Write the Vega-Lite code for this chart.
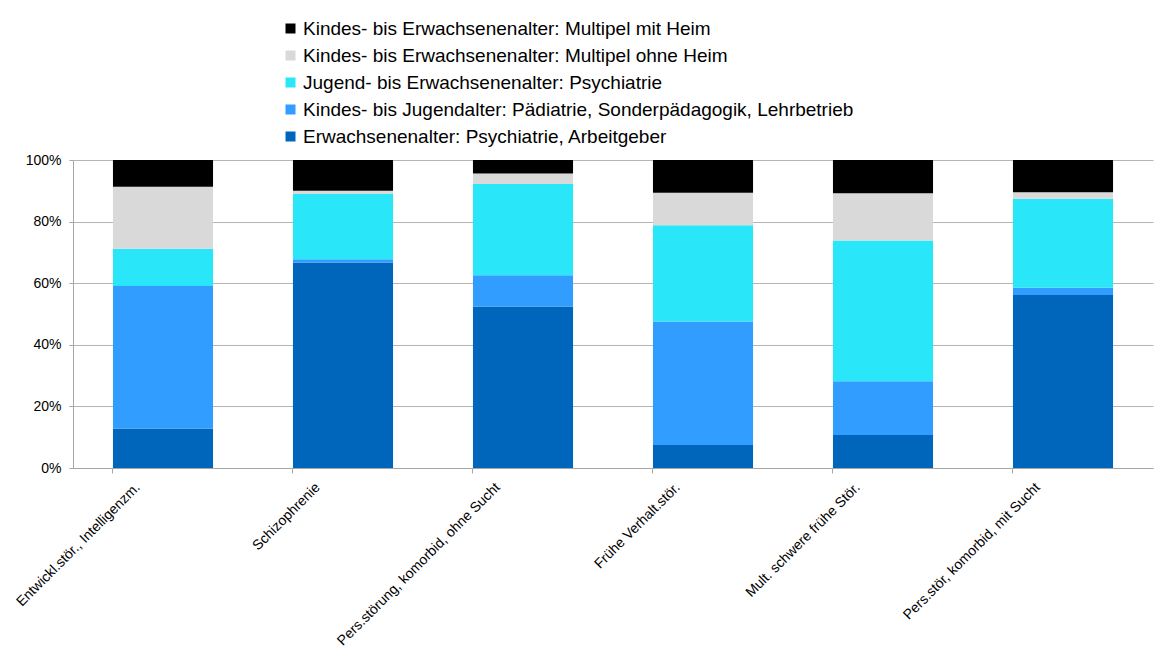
{
  "$schema": "https://vega.github.io/schema/vega-lite/v6.json",
  "width": 1080,
  "height": 308,
  "autosize": {"type": "none"},
  "padding": {"left": 73, "top": 160, "right": 14, "bottom": 180},
  "background": "white",
  "config": {
    "font": "Liberation Sans",
    "view": {"stroke": null}
  },
  "data": {
    "values": [
      {"kat": "Entwickl.stör., Intelligenzm.", "serie": "Erwachsenenalter: Psychiatrie, Arbeitgeber", "wert": 12.8},
      {"kat": "Entwickl.stör., Intelligenzm.", "serie": "Kindes- bis Jugendalter: Pädiatrie, Sonderpädagogik, Lehrbetrieb", "wert": 46.3},
      {"kat": "Entwickl.stör., Intelligenzm.", "serie": "Jugend- bis Erwachsenenalter: Psychiatrie", "wert": 12.1},
      {"kat": "Entwickl.stör., Intelligenzm.", "serie": "Kindes- bis Erwachsenenalter: Multipel ohne Heim", "wert": 20.1},
      {"kat": "Entwickl.stör., Intelligenzm.", "serie": "Kindes- bis Erwachsenenalter: Multipel mit Heim", "wert": 8.7},
      {"kat": "Schizophrenie", "serie": "Erwachsenenalter: Psychiatrie, Arbeitgeber", "wert": 66.7},
      {"kat": "Schizophrenie", "serie": "Kindes- bis Jugendalter: Pädiatrie, Sonderpädagogik, Lehrbetrieb", "wert": 1.1},
      {"kat": "Schizophrenie", "serie": "Jugend- bis Erwachsenenalter: Psychiatrie", "wert": 21.2},
      {"kat": "Schizophrenie", "serie": "Kindes- bis Erwachsenenalter: Multipel ohne Heim", "wert": 1.0},
      {"kat": "Schizophrenie", "serie": "Kindes- bis Erwachsenenalter: Multipel mit Heim", "wert": 10.0},
      {"kat": "Pers.störung, komorbid, ohne Sucht", "serie": "Erwachsenenalter: Psychiatrie, Arbeitgeber", "wert": 52.4},
      {"kat": "Pers.störung, komorbid, ohne Sucht", "serie": "Kindes- bis Jugendalter: Pädiatrie, Sonderpädagogik, Lehrbetrieb", "wert": 10.2},
      {"kat": "Pers.störung, komorbid, ohne Sucht", "serie": "Jugend- bis Erwachsenenalter: Psychiatrie", "wert": 29.6},
      {"kat": "Pers.störung, komorbid, ohne Sucht", "serie": "Kindes- bis Erwachsenenalter: Multipel ohne Heim", "wert": 3.4},
      {"kat": "Pers.störung, komorbid, ohne Sucht", "serie": "Kindes- bis Erwachsenenalter: Multipel mit Heim", "wert": 4.4},
      {"kat": "Frühe Verhalt.stör.", "serie": "Erwachsenenalter: Psychiatrie, Arbeitgeber", "wert": 7.5},
      {"kat": "Frühe Verhalt.stör.", "serie": "Kindes- bis Jugendalter: Pädiatrie, Sonderpädagogik, Lehrbetrieb", "wert": 40.1},
      {"kat": "Frühe Verhalt.stör.", "serie": "Jugend- bis Erwachsenenalter: Psychiatrie", "wert": 31.2},
      {"kat": "Frühe Verhalt.stör.", "serie": "Kindes- bis Erwachsenenalter: Multipel ohne Heim", "wert": 10.6},
      {"kat": "Frühe Verhalt.stör.", "serie": "Kindes- bis Erwachsenenalter: Multipel mit Heim", "wert": 10.6},
      {"kat": "Mult. schwere frühe Stör.", "serie": "Erwachsenenalter: Psychiatrie, Arbeitgeber", "wert": 10.7},
      {"kat": "Mult. schwere frühe Stör.", "serie": "Kindes- bis Jugendalter: Pädiatrie, Sonderpädagogik, Lehrbetrieb", "wert": 17.5},
      {"kat": "Mult. schwere frühe Stör.", "serie": "Jugend- bis Erwachsenenalter: Psychiatrie", "wert": 45.7},
      {"kat": "Mult. schwere frühe Stör.", "serie": "Kindes- bis Erwachsenenalter: Multipel ohne Heim", "wert": 15.3},
      {"kat": "Mult. schwere frühe Stör.", "serie": "Kindes- bis Erwachsenenalter: Multipel mit Heim", "wert": 10.8},
      {"kat": "Pers.stör, komorbid, mit Sucht", "serie": "Erwachsenenalter: Psychiatrie, Arbeitgeber", "wert": 56.2},
      {"kat": "Pers.stör, komorbid, mit Sucht", "serie": "Kindes- bis Jugendalter: Pädiatrie, Sonderpädagogik, Lehrbetrieb", "wert": 2.3},
      {"kat": "Pers.stör, komorbid, mit Sucht", "serie": "Jugend- bis Erwachsenenalter: Psychiatrie", "wert": 28.9},
      {"kat": "Pers.stör, komorbid, mit Sucht", "serie": "Kindes- bis Erwachsenenalter: Multipel ohne Heim", "wert": 2.1},
      {"kat": "Pers.stör, komorbid, mit Sucht", "serie": "Kindes- bis Erwachsenenalter: Multipel mit Heim", "wert": 10.5}
    ]
  },
  "transform": [
    {"calculate": "indexof(['Erwachsenenalter: Psychiatrie, Arbeitgeber', 'Kindes- bis Jugendalter: Pädiatrie, Sonderpädagogik, Lehrbetrieb', 'Jugend- bis Erwachsenenalter: Psychiatrie', 'Kindes- bis Erwachsenenalter: Multipel ohne Heim', 'Kindes- bis Erwachsenenalter: Multipel mit Heim'], datum.serie)", "as": "reihenfolge"}
  ],
  "mark": {"type": "bar"},
  "encoding": {
    "x": {
      "field": "kat",
      "type": "nominal",
      "sort": null,
      "scale": {"paddingInner": 0.444, "paddingOuter": 0.222},
      "axis": {
        "title": null,
        "labelAngle": -45,
        "labelAlign": "right",
        "labelBaseline": "top",
        "labelFontSize": 14,
        "labelColor": "black",
        "labelOffset": -30,
        "labelPadding": 7,
        "bandPosition": 0,
        "domainColor": "#A6A6A6",
        "tickColor": "#A6A6A6",
        "tickSize": 5,
        "labelLimit": 400
      }
    },
    "y": {
      "field": "wert",
      "type": "quantitative",
      "stack": "normalize",
      "scale": {"domain": [0, 1], "nice": false},
      "axis": {
        "title": null,
        "format": ".0%",
        "values": [0, 0.2, 0.4, 0.6, 0.8, 1],
        "labelFontSize": 14,
        "labelColor": "black",
        "labelPadding": 8,
        "tickSize": 4,
        "tickColor": "#A6A6A6",
        "domainColor": "#A6A6A6",
        "gridColor": "#B4B4B4",
        "grid": true
      }
    },
    "order": {"field": "reihenfolge", "type": "quantitative", "sort": "ascending"},
    "color": {
      "field": "serie",
      "type": "nominal",
      "scale": {
        "domain": [
          "Erwachsenenalter: Psychiatrie, Arbeitgeber",
          "Kindes- bis Jugendalter: Pädiatrie, Sonderpädagogik, Lehrbetrieb",
          "Jugend- bis Erwachsenenalter: Psychiatrie",
          "Kindes- bis Erwachsenenalter: Multipel ohne Heim",
          "Kindes- bis Erwachsenenalter: Multipel mit Heim"
        ],
        "range": ["#0066BB", "#309DFF", "#29E6F8", "#D9D9D9", "#000000"]
      },
      "legend": {
        "title": null,
        "orient": "none",
        "legendX": 208,
        "legendY": -141,
        "values": [
          "Kindes- bis Erwachsenenalter: Multipel mit Heim",
          "Kindes- bis Erwachsenenalter: Multipel ohne Heim",
          "Jugend- bis Erwachsenenalter: Psychiatrie",
          "Kindes- bis Jugendalter: Pädiatrie, Sonderpädagogik, Lehrbetrieb",
          "Erwachsenenalter: Psychiatrie, Arbeitgeber"
        ],
        "symbolType": "square",
        "symbolSize": 100,
        "symbolStrokeWidth": 0,
        "labelFontSize": 19,
        "labelColor": "black",
        "labelLimit": 800,
        "rowPadding": 7,
        "labelOffset": 3
      }
    }
  }
}
